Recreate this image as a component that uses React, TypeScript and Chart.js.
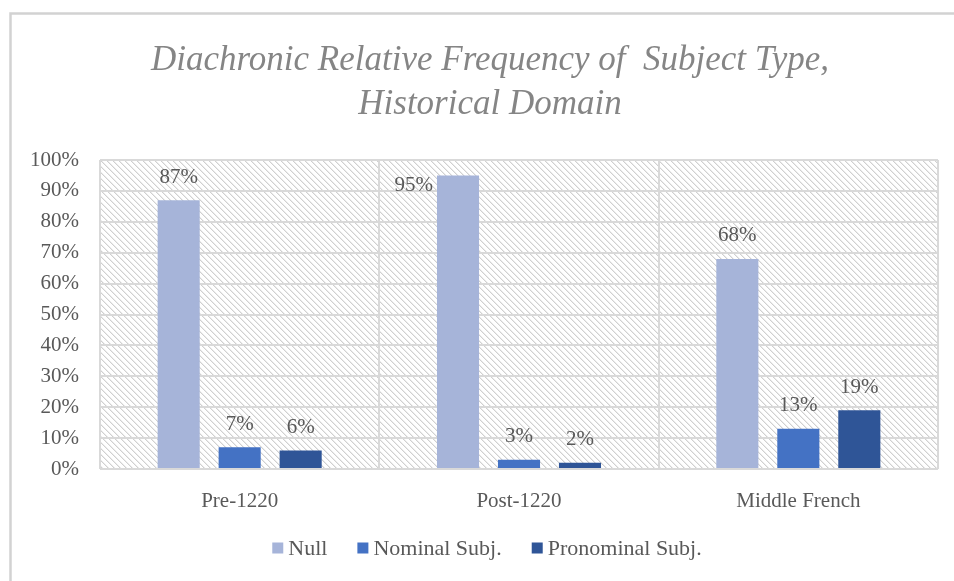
import React, { useEffect, useRef } from "react";
import { Chart, registerables } from "chart.js";

Chart.register(...registerables);

const categories = ["Pre-1220", "Post-1220", "Middle French"];
const seriesNames = ["Null", "Nominal Subj.", "Pronominal Subj."];
const nullValues = [87, 95, 68];
const nominalValues = [7, 3, 13];
const pronominalValues = [6, 2, 19];
const seriesColors = ["#A6B4D9", "#4472C4", "#2F5597"];
const titleLines = ["Diachronic Relative Frequency of  Subject Type,", "Historical Domain"];
const yMin = 0;
const yMax = 100;
const yStep = 10;

const SERIF = "'Liberation Serif', 'DejaVu Serif', serif";

function makeHatch(): CanvasPattern | string {
  const size = 6;
  const c = document.createElement("canvas");
  c.width = size;
  c.height = size;
  const ctx = c.getContext("2d");
  if (!ctx) return "#ffffff";
  const img = ctx.createImageData(size, size);
  for (let y = 0; y < size; y++) {
    for (let x = 0; x < size; x++) {
      const i = (y * size + x) * 4;
      const d = ((x - y) % size + size) % size;
      let v = 255;
      if (d === 0) v = 208;
      else if (d === 1) v = 236;
      img.data[i] = v;
      img.data[i + 1] = v;
      img.data[i + 2] = v;
      img.data[i + 3] = 255;
    }
  }
  ctx.putImageData(img, 0, 0);
  const p = ctx.createPattern(c, "repeat");
  return p || "#ffffff";
}

const decorPlugin = {
  id: "decor",
  beforeDraw(chart: any) {
    const { ctx, chartArea } = chart;
    ctx.save();
    ctx.fillStyle = "#ffffff";
    ctx.fillRect(0, 0, chart.width, chart.height);
    // card border
    ctx.strokeStyle = "#d2d2d2";
    ctx.lineWidth = 2.5;
    ctx.strokeRect(10.5, 13.5, chart.width + 20, chart.height + 20);
    // hatched plot background
    ctx.fillStyle = makeHatch();
    ctx.fillRect(chartArea.left, chartArea.top, chartArea.right - chartArea.left, chartArea.bottom - chartArea.top);
    // title
    ctx.fillStyle = "#858585";
    ctx.font = "italic 35px " + SERIF;
    ctx.textAlign = "center";
    ctx.textBaseline = "alphabetic";
    const cx = 490;
    ctx.fillText(titleLines[0], cx, 70);
    ctx.fillText(titleLines[1], cx, 114);
    ctx.restore();
  },
  afterDatasetsDraw(chart: any) {
    const { ctx, chartArea } = chart;
    ctx.save();
    ctx.font = "21px " + SERIF;
    ctx.fillStyle = "#595959";
    ctx.textBaseline = "middle";
    ctx.textAlign = "center";
    chart.data.datasets.forEach((ds: any, di: number) => {
      const meta = chart.getDatasetMeta(di);
      meta.data.forEach((bar: any, i: number) => {
        const label = ds.data[i] + "%";
        let x = bar.x;
        let y = bar.y - 23;
        if (y < chartArea.top + 10) {
          const w = ctx.measureText(label).width;
          y = chartArea.top + 25;
          x = bar.x - bar.width / 2 - w / 2 - 4;
        }
        ctx.fillText(label, x, y);
      });
    });
    // legend
    ctx.font = "22px " + SERIF;
    ctx.textAlign = "left";
    const box = 11;
    const gapBox = 5;
    const gapItem = 30;
    const widths = chart.data.datasets.map((ds: any) => box + gapBox + ctx.measureText(ds.label).width);
    const total = widths.reduce((a: number, b: number) => a + b, 0) + gapItem * (widths.length - 1);
    let lx = 487 - total / 2;
    const ly = 548;
    chart.data.datasets.forEach((ds: any, di: number) => {
      ctx.fillStyle = ds.backgroundColor;
      ctx.fillRect(lx, ly - box / 2, box, box);
      ctx.fillStyle = "#595959";
      ctx.fillText(ds.label, lx + box + gapBox, ly + 1);
      lx += widths[di] + gapItem;
    });
    ctx.restore();
  },
};

export default function App() {
  const ref = useRef<HTMLCanvasElement | null>(null);
  useEffect(() => {
    if (!ref.current) return;
    const values = [nullValues, nominalValues, pronominalValues];
    const chart = new Chart(ref.current, {
      type: "bar",
      data: {
        labels: categories,
        datasets: seriesNames.map((name, i) => ({
          label: name,
          data: values[i],
          backgroundColor: seriesColors[i],
          borderWidth: 0,
          categoryPercentage: 0.655,
          barPercentage: 0.69,
        })),
      },
      options: {
        animation: false,
        responsive: false,
        devicePixelRatio: 1,
        layout: { padding: { top: 160, left: 0, right: 16, bottom: 0 } },
        plugins: {
          legend: { display: false },
          title: { display: false },
          tooltip: { enabled: false },
        },
        scales: {
          x: {
            grid: { display: true, offset: true, color: "#d9d9d9", lineWidth: 2, drawTicks: false },
            border: { display: false },
            ticks: { color: "#595959", font: { family: SERIF, size: 21 }, padding: 20 },
            afterFit: (scale: any) => {
              scale.height = 112;
            },
          },
          y: {
            min: yMin,
            max: yMax,
            grid: { color: "#d9d9d9", lineWidth: 2, drawTicks: false },
            border: { display: false },
            ticks: {
              stepSize: yStep,
              color: "#595959",
              font: { family: SERIF, size: 21 },
              padding: 21,
              callback: (v: any) => v + "%",
            },
            afterFit: (scale: any) => {
              scale.width = 100;
            },
          },
        },
      },
      plugins: [decorPlugin],
    });
    return () => chart.destroy();
  }, []);
  return (
    <div style={{ position: "absolute", left: 0, top: 0, width: 954, height: 581 }}>
      <canvas ref={ref} width={954} height={581} style={{ width: 954, height: 581, display: "block" }} />
    </div>
  );
}
